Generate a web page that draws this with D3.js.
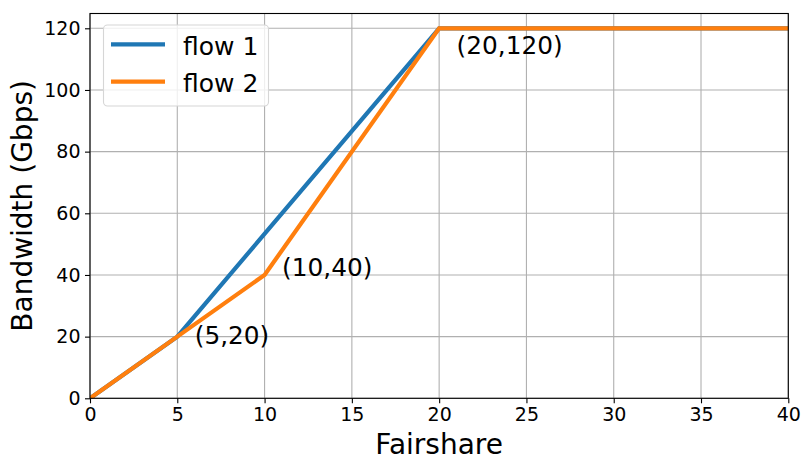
<!DOCTYPE html>
<html>
<head>
<meta charset="utf-8">
<script src="https://cdn.jsdelivr.net/npm/d3@7"></script>
<style>
  body { margin: 0; background: #fff; }
  svg { display: block; font-family: "DejaVu Sans", sans-serif; }
</style>
</head>
<body>
<svg id="chart" width="810" height="470"></svg>
<script>
// ---- data ----
const flow1X = [0, 5, 20, 40];
const flow1Y = [0, 20, 120, 120];
const flow2X = [0, 5, 10, 20, 40];
const flow2Y = [0, 20, 40, 120, 120];
const seriesNames = ["flow 1", "flow 2"];
const seriesColors = ["#1f77b4", "#ff7f0e"];
const xTicks = [0, 5, 10, 15, 20, 25, 30, 35, 40];
const yTicks = [0, 20, 40, 60, 80, 100, 120];
const annoText = ["(5,20)", "(10,40)", "(20,120)"];
const annoX = [6, 11, 21];
const annoY = [17.6, 39.8, 111.7];

// ---- layout ----
const svg = d3.select("#chart");
const pLeft = 90, pRight = 788.3, pTop = 13.5, pBottom = 398.3;
const x = d3.scaleLinear().domain([0, 40]).range([pLeft, pRight]);
const y = d3.scaleLinear().domain([0, 124.8]).range([pBottom, pTop]);

// grid
const g = svg.append("g");
g.selectAll(".gx").data(xTicks).enter().append("line")
  .attr("x1", d => x(d)).attr("x2", d => x(d))
  .attr("y1", pTop).attr("y2", pBottom)
  .attr("stroke", "#b0b0b0").attr("stroke-width", 1.1);
g.selectAll(".gy").data(yTicks).enter().append("line")
  .attr("x1", pLeft).attr("x2", pRight)
  .attr("y1", d => y(d)).attr("y2", d => y(d))
  .attr("stroke", "#b0b0b0").attr("stroke-width", 1.1);

// lines
const series = [
  flow1X.map((v, i) => [v, flow1Y[i]]),
  flow2X.map((v, i) => [v, flow2Y[i]])
];
const line = d3.line().x(d => x(d[0])).y(d => y(d[1]));
svg.append("clipPath").attr("id", "clip").append("rect")
  .attr("x", pLeft).attr("y", pTop).attr("width", pRight - pLeft).attr("height", pBottom - pTop);
series.forEach((s, i) => {
  svg.append("path").datum(s).attr("d", line)
    .attr("clip-path", "url(#clip)")
    .attr("fill", "none").attr("stroke", seriesColors[i])
    .attr("stroke-width", 4.2).attr("stroke-linejoin", "miter")
    .attr("stroke-linecap", "square");
});

// frame
svg.append("rect").attr("x", pLeft).attr("y", pTop)
  .attr("width", pRight - pLeft).attr("height", pBottom - pTop)
  .attr("fill", "none").attr("stroke", "#000").attr("stroke-width", 1.1);

// axes
const xAxis = d3.axisBottom(x).tickValues(xTicks).tickSize(5).tickPadding(4.5).tickFormat(d3.format("d"));
const yAxis = d3.axisLeft(y).tickValues(yTicks).tickSize(5).tickPadding(4.5).tickFormat(d3.format("d"));
const gx = svg.append("g").attr("transform", `translate(0,${pBottom})`).call(xAxis);
const gy = svg.append("g").attr("transform", `translate(${pLeft},0)`).call(yAxis);
[gx, gy].forEach(a => {
  a.select(".domain").remove();
  a.selectAll("line").attr("stroke", "#000").attr("stroke-width", 1.1);
  a.selectAll("text").attr("font-size", "19px").attr("fill", "#000")
    .attr("font-family", "DejaVu Sans, sans-serif");
});

// axis labels
svg.append("text").attr("x", (pLeft + pRight) / 2).attr("y", 454)
  .attr("text-anchor", "middle").attr("font-size", "28px").text("Fairshare");
svg.append("text")
  .attr("transform", `translate(32,${(pTop + pBottom) / 2}) rotate(-90)`)
  .attr("text-anchor", "middle").attr("font-size", "28px").text("Bandwidth (Gbps)");

// annotations
annoText.forEach((t, i) => {
  svg.append("text").attr("x", x(annoX[i])).attr("y", y(annoY[i]))
    .attr("font-size", "24.8px").attr("fill", "#000").text(t);
});

// legend
const lg = svg.append("g");
lg.append("rect").attr("x", 103.5).attr("y", 25).attr("width", 165).attr("height", 81)
  .attr("rx", 4).attr("fill", "#fff").attr("fill-opacity", 0.8)
  .attr("stroke", "#d6d6d6").attr("stroke-width", 1.1);
seriesNames.forEach((n, i) => {
  const yy = 44.3 + i * 37.4;
  lg.append("line").attr("x1", 111).attr("x2", 165).attr("y1", yy).attr("y2", yy)
    .attr("stroke", seriesColors[i]).attr("stroke-width", 4.2);
  lg.append("text").attr("x", 183).attr("y", yy + 10.7)
    .attr("font-size", "25px").attr("fill", "#000").text(n);
});
</script>
</body>
</html>
